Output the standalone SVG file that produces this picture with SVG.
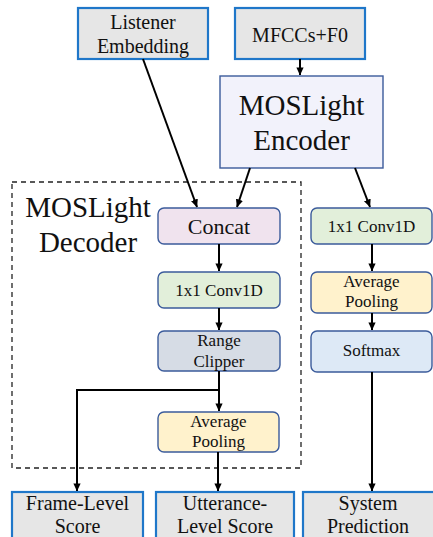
<svg xmlns="http://www.w3.org/2000/svg" width="433" height="537" viewBox="0 0 433 537">
  <style>
    text { font-family: "Liberation Serif", "Times New Roman", serif; fill: #111; text-anchor: middle; }
    .io { fill: #e6e6e6; stroke: #1f77c9; stroke-width: 2.2; }
    .blk { stroke: #3b5b9b; stroke-width: 1.4; }
    .wire { fill: none; stroke: #000; stroke-width: 2; }
  </style>
  <defs>
    <marker id="arrow" viewBox="0 0 10 10" refX="9.5" refY="5" markerWidth="4" markerHeight="4" orient="auto" markerUnits="strokeWidth">
      <path d="M0,0.5 L10,5 L0,9.5 Z" fill="#000"/>
    </marker>
  </defs>

  <rect width="433" height="537" fill="#fff"/>

  <!-- decoder boundary -->
  <g id="decoder-frame">
    <rect x="12" y="182" width="289" height="286" fill="none" stroke="#222" stroke-width="1.3" stroke-dasharray="5,4"/>
    <text x="88" y="217" font-size="29">MOSLight</text>
    <text x="88" y="252" font-size="29">Decoder</text>
  </g>

  <!-- inputs -->
  <g id="listener-embedding">
    <rect class="io" x="78" y="8" width="130" height="51"/>
    <text x="143" y="29" font-size="20">Listener</text>
    <text x="143" y="53" font-size="20">Embedding</text>
  </g>
  <g id="mfccs-f0">
    <rect class="io" x="235" y="8" width="130" height="51"/>
    <text x="300" y="42" font-size="20">MFCCs+F0</text>
  </g>

  <!-- encoder -->
  <g id="encoder">
    <rect x="220" y="76" width="163" height="92" fill="#f2f2fb" stroke="#3b5b9b" stroke-width="1.4"/>
    <text x="301.5" y="115" font-size="29">MOSLight</text>
    <text x="301.5" y="150" font-size="29">Encoder</text>
  </g>

  <!-- decoder blocks -->
  <g id="concat">
    <rect class="blk" x="158" y="208" width="122" height="36" rx="6" fill="#f0e3ee"/>
    <text x="219" y="234" font-size="22">Concat</text>
  </g>
  <g id="dec-conv1d">
    <rect class="blk" x="158" y="272" width="122" height="36" rx="6" fill="#e2efda"/>
    <text x="219" y="296" font-size="17">1x1 Conv1D</text>
  </g>
  <g id="range-clipper">
    <rect class="blk" x="158" y="331" width="122" height="40" rx="6" fill="#d6dce5"/>
    <text x="219" y="346" font-size="17">Range</text>
    <text x="219" y="367" font-size="17">Clipper</text>
  </g>
  <g id="dec-pooling">
    <rect class="blk" x="158" y="412" width="121" height="40" rx="6" fill="#fff2cc"/>
    <text x="218.5" y="427" font-size="17">Average</text>
    <text x="218.5" y="447" font-size="17">Pooling</text>
  </g>

  <!-- system branch -->
  <g id="sys-conv1d">
    <rect class="blk" x="311" y="208" width="121" height="36" rx="6" fill="#e2efda"/>
    <text x="371.5" y="232" font-size="17">1x1 Conv1D</text>
  </g>
  <g id="sys-pooling">
    <rect class="blk" x="311" y="272" width="121" height="41" rx="6" fill="#fff2cc"/>
    <text x="371.5" y="287" font-size="17">Average</text>
    <text x="371.5" y="307" font-size="17">Pooling</text>
  </g>
  <g id="softmax">
    <rect class="blk" x="311" y="331" width="121" height="41" rx="6" fill="#dde9f6"/>
    <text x="371.5" y="356" font-size="17">Softmax</text>
  </g>

  <!-- outputs -->
  <g id="frame-score">
    <rect class="io" x="12" y="492" width="131" height="60"/>
    <text x="77.5" y="510" font-size="20">Frame-Level</text>
    <text x="77.5" y="533" font-size="20">Score</text>
  </g>
  <g id="utterance-score">
    <rect class="io" x="156" y="492" width="138" height="60"/>
    <text x="225" y="510" font-size="20">Utterance-</text>
    <text x="225" y="533" font-size="20">Level Score</text>
  </g>
  <g id="system-prediction">
    <rect class="io" x="303" y="492" width="140" height="60"/>
    <text x="368" y="510" font-size="20">System</text>
    <text x="368" y="533" font-size="20">Prediction</text>
  </g>

  <!-- connectors -->
  <g id="connectors">
    <path class="wire" d="M300,59 V75" marker-end="url(#arrow)"/>
    <path class="wire" d="M143,59 L197,207" marker-end="url(#arrow)"/>
    <path class="wire" d="M250,168 L237,207" marker-end="url(#arrow)"/>
    <path class="wire" d="M355,168 L370,207" marker-end="url(#arrow)"/>
    <path class="wire" d="M219,244 V271" marker-end="url(#arrow)"/>
    <path class="wire" d="M219,308 V330" marker-end="url(#arrow)"/>
    <path class="wire" d="M219,371 V411" marker-end="url(#arrow)"/>
    <path class="wire" d="M219,390 H77 V491" marker-end="url(#arrow)"/>
    <path class="wire" d="M218,452 V491" marker-end="url(#arrow)"/>
    <path class="wire" d="M372,244 V271" marker-end="url(#arrow)"/>
    <path class="wire" d="M372,313 V330" marker-end="url(#arrow)"/>
    <path class="wire" d="M372,372 V491" marker-end="url(#arrow)"/>
  </g>
</svg>
